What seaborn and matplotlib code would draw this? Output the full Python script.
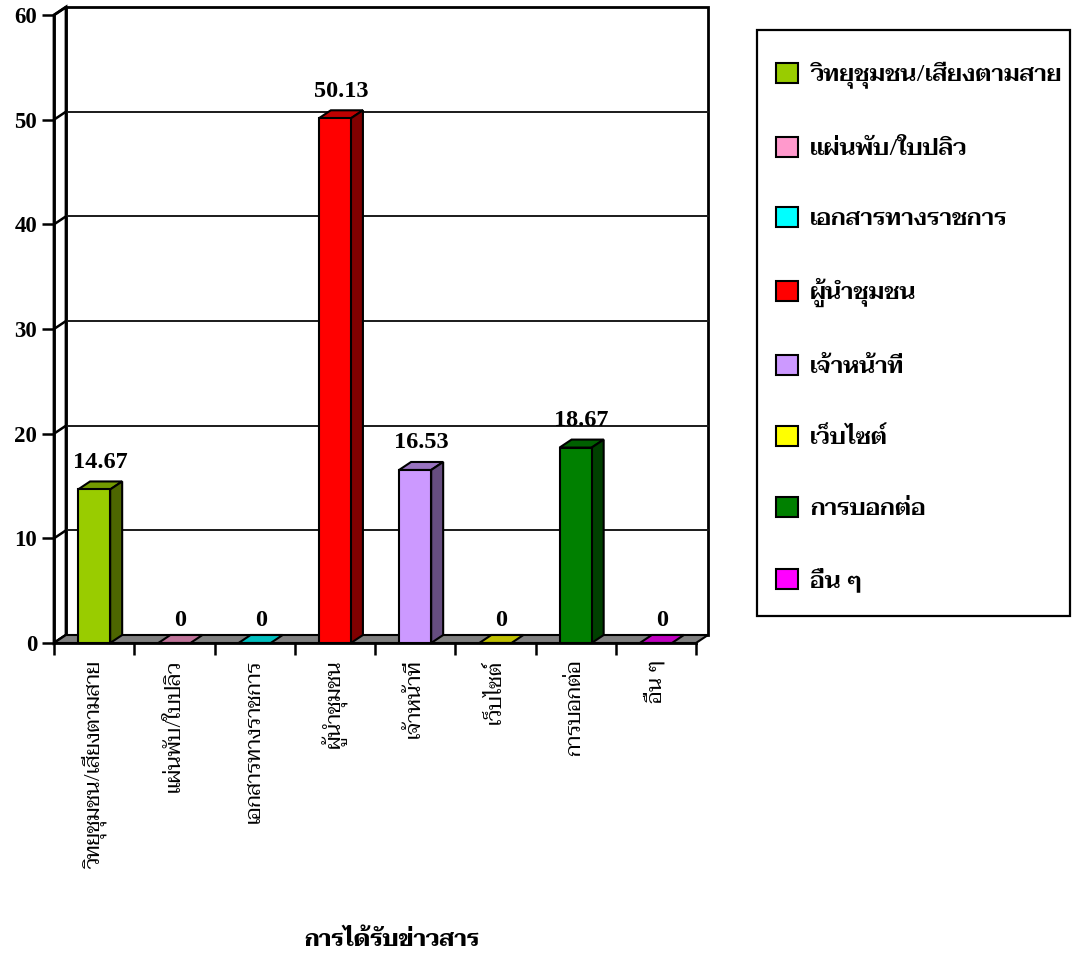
import numpy as np
import matplotlib
matplotlib.use("Agg")
import matplotlib.pyplot as plt
import matplotlib.transforms as mtrans
from matplotlib.patches import Polygon, Patch, Rectangle
from matplotlib import font_manager as fm
from matplotlib.colors import to_rgb
import seaborn as sns

# ---- data ----
categories = ["วิทยุชุมชน/เสียงตามสาย", "แผ่นพับ/ใบปลิว", "เอกสารทางราชการ", "ผู้นำชุมชน",
              "เจ้าหน้าที่", "เว็บไซต์", "การบอกต่อ", "อื่น ๆ"]
values = [14.67, 0, 0, 50.13, 16.53, 0, 18.67, 0]
colors = ["#99CC00", "#FF99CC", "#00FFFF", "#FF0000", "#CC99FF", "#FFFF00", "#008000", "#FF00FF"]
y_ticks = [0, 10, 20, 30, 40, 50, 60]
x_title = "การได้รับข่าวสาร"

sns.set_theme(style="white")

available = {f.name for f in fm.fontManager.ttflist}
thai_family = next((f for f in ["Taviraj", "Noto Serif Thai", "Trirong", "Sarabun", "Athiti"]
                    if f in available), "DejaVu Sans")
num_family = "Liberation Serif"
plt.rcParams["font.family"] = [num_family, thai_family, "DejaVu Sans"]
for key in ["text.color", "axes.labelcolor", "xtick.color", "ytick.color", "axes.edgecolor"]:
    plt.rcParams[key] = "black"

fig = plt.figure(figsize=(10.81, 9.56), dpi=100)
W, H = 1081, 956
ax = fig.add_axes([54 / W, 313 / H, 642 / W, 628 / H])

sns.barplot(x=categories, y=values, hue=categories, palette=colors, dodge=False,
            width=0.4, saturation=1, edgecolor="black", linewidth=1.5,
            legend=False, ax=ax, zorder=6)

ax.set_xlim(-0.5, len(categories) - 0.5)
ax.set_ylim(y_ticks[0], y_ticks[-1])
ax.set_autoscale_on(False)
fig.canvas.draw()

DX, DY = 12, 8  # depth of the 3-D box in pixels
ident = mtrans.IdentityTransform()


def disp(x, y):
    return ax.transData.transform((x, y))


def back(p):
    return (p[0] + DX, p[1] + DY)


def face(pts, fc, z, lw=1.5, ec="black"):
    ax.add_patch(Polygon(pts, closed=True, transform=ident, clip_on=False,
                         facecolor=fc, edgecolor=ec, linewidth=lw, zorder=z,
                         joinstyle="miter"))


def line(p, q, z, lw=1.8, color="black"):
    ax.add_line(plt.Line2D([p[0], q[0]], [p[1], q[1]], transform=ident, clip_on=False,
                           color=color, linewidth=lw, zorder=z))


x0, x1 = ax.get_xlim()
y0, y1 = ax.get_ylim()

# back wall
bl, br, tl, tr = disp(x0, y0), disp(x1, y0), disp(x0, y1), disp(x1, y1)
face([back(bl), back(br), back(tr), back(tl)], "white", 1, lw=2)
# left wall
face([bl, back(bl), back(tl), tl], "white", 1, lw=2)
# gridlines on the back wall and their run across the left wall
for t in y_ticks[1:-1]:
    p, q = disp(x0, t), disp(x1, t)
    line(back(p), back(q), 2, lw=1.4, color="#1a1a1a")
for t in y_ticks:
    p = disp(x0, t)
    line(p, back(p), 2, lw=1.8)
# floor
face([bl, br, back(br), back(bl)], "#808080", 3, lw=1.5)

# 3-D faces for each bar
for patch, col in zip(ax.patches[:len(values)], colors):
    bx, bw, bh = patch.get_x(), patch.get_width(), patch.get_height()
    rgb = np.array(to_rgb(col))
    ftl, ftr, fbr = disp(bx, bh), disp(bx + bw, bh), disp(bx + bw, 0)
    face([ftl, ftr, back(ftr), back(ftl)], rgb * 0.75, 5)
    if bh > 0:
        face([fbr, ftr, back(ftr), back(fbr)], rgb * 0.5, 5)

# value labels
for patch, v in zip(ax.patches[:len(values)], values):
    cx = patch.get_x() + patch.get_width() / 2
    lift = 27 if v > 0 else 23
    ax.annotate(f"{v:g}", xy=(cx, v), xytext=(DX / 2, lift), textcoords="offset pixels",
                ha="center", va="center", fontsize=17.5, fontweight="bold",
                family=num_family, color="black", annotation_clip=False, zorder=8)

# axes styling
for s in ["top", "right"]:
    ax.spines[s].set_visible(False)
for s in ["left", "bottom"]:
    ax.spines[s].set_visible(True)
    ax.spines[s].set_color("black")
    ax.spines[s].set_linewidth(2)
    ax.spines[s].set_zorder(7)
ax.set_facecolor("none")
ax.grid(False)

ax.set_yticks(y_ticks)
ax.set_yticklabels([str(t) for t in y_ticks], fontsize=16.5, fontweight="bold", family=num_family)
ax.tick_params(axis="y", which="major", direction="out", length=8.6, width=1.8,
               color="black", labelcolor="black", pad=3.5, left=True)

ax.set_xticks(np.arange(x0, x1 + 0.01, 1.0))
ax.set_xticklabels([])
ax.tick_params(axis="x", which="major", direction="out", length=8.6, width=1.8,
               color="black", bottom=True)
ax.set_xticks(np.arange(len(categories)), minor=True)
ax.set_xticklabels(categories, minor=True, rotation=90, fontsize=15.2,
                   family=[thai_family, "DejaVu Sans"], va="top", ha="center")
ax.tick_params(axis="x", which="minor", length=0, pad=12, labelcolor="black")
ax.set_xlabel("")
ax.set_ylabel("")

fig.text(392 / W, 1 - 940 / H, x_title, ha="center", va="center", fontsize=16.5,
         fontweight="bold", family=[thai_family, "DejaVu Sans"], color="black")

# legend: frame drawn as its own box, entries placed inside it
fig.add_artist(Rectangle((757 / W, 1 - 616 / H), 313 / W, 586 / H, transform=fig.transFigure,
                         fill=False, edgecolor="black", linewidth=1.6))
handles = [Patch(facecolor=c, edgecolor="black", linewidth=1.5) for c in colors]
leg = fig.legend(handles, categories, loc="upper left",
                 bbox_to_anchor=(776 / W, 1 - 62 / H), bbox_transform=fig.transFigure,
                 frameon=False, borderpad=0, labelspacing=2.01, handlelength=0.93,
                 handleheight=0.93, handletextpad=0.5, borderaxespad=0,
                 prop=fm.FontProperties(family=[thai_family, "DejaVu Sans"], weight=600, size=17))
for t in leg.get_texts():
    t.set_color("black")

fig.savefig("out.png", dpi=100)
